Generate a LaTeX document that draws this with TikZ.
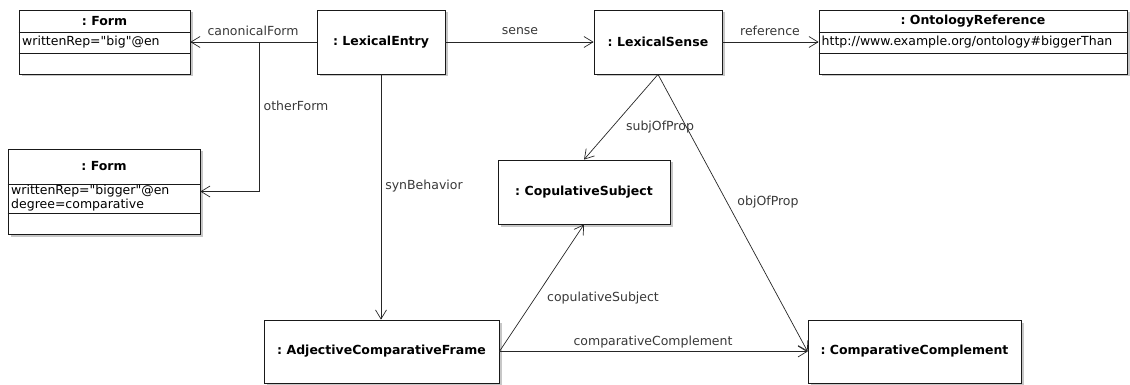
\documentclass[tikz,border=0pt]{standalone}
\usepackage{fontspec}
\setmainfont{DejaVu Sans}[Ligatures=TeXOff]
\usetikzlibrary{arrows.meta,shadows}
\frenchspacing

\begin{document}
\begin{tikzpicture}[x=1pt,y=-1pt,
  txt/.style={font=\fontsize{12.5}{15}\selectfont, inner sep=0pt},
  objbox/.style={draw=black!90, line width=0.8pt, fill=white, inner sep=0pt,
    drop shadow={shadow xshift=2.5pt, shadow yshift=-2.5pt, fill=black!22, opacity=1}},
  title/.style={txt, font=\fontsize{12.5}{15}\selectfont\bfseries},
  attr/.style={txt, anchor=west, align=left},
  lbl/.style={txt, text=black!78},
  sep/.style={draw=black!90, line width=0.8pt},
  assoc/.style={draw=black!85, line width=0.7pt,
    -{Straight Barb[length=9pt,width=11pt,line width=0.7pt]}},
]
\useasboundingbox (0,0) rectangle (1130,385);

% ---- objects of the top row ----
\node[objbox, minimum width=171pt, minimum height=64pt] (f1) at (104.5,42) {};
\node[title] (f1t) at (104.5,21) {: Form};
\draw[sep] (f1.west |- 0,32) -- (f1.east |- 0,32);
\draw[sep] (f1.west |- 0,53) -- (f1.east |- 0,53);
\node[attr] (f1a) at (22,42.5) {writtenRep="big"@en};

\node[objbox, title, minimum width=128pt, minimum height=64pt] (le) at (381,42) {: LexicalEntry};

\node[objbox, title, minimum width=128pt, minimum height=64pt] (ls) at (658,42) {: LexicalSense};

\node[objbox, minimum width=308pt, minimum height=64pt] (onto) at (973,42) {};
\node[title] (ontot) at (973,21) {: OntologyReference};
\draw[sep] (onto.west |- 0,32) -- (onto.east |- 0,32);
\draw[sep] (onto.west |- 0,53) -- (onto.east |- 0,53);
\node[attr] (ontoa) at (821.5,42.5) {http://www.example.org/ontology\#biggerThan};

% ---- second form ----
\node[objbox, minimum width=192pt, minimum height=85pt] (f2) at (104,191.5) {};
\node[title] (f2t) at (104,166.5) {: Form};
\draw[sep] (f2.west |- 0,184) -- (f2.east |- 0,184);
\draw[sep] (f2.west |- 0,213) -- (f2.east |- 0,213);
\node[attr, font=\fontsize{12.5}{14.5}\selectfont] (f2a) at (11,198) {writtenRep="bigger"@en\\degree=comparative};

% ---- frame and its arguments ----
\node[objbox, title, minimum width=172pt, minimum height=64pt] (cs) at (584,192) {: CopulativeSubject};
\node[objbox, title, minimum width=235pt, minimum height=63pt] (acf) at (381.5,351.5) {: AdjectiveComparativeFrame};
\node[objbox, title, minimum width=213pt, minimum height=63pt] (cc) at (914.5,351.5) {: ComparativeComplement};

% ---- connectors ----
\coordinate (ofb) at (259,42);
\draw[assoc] (le.west) -- (f1.east);
\draw[assoc] (ofb) |- (f2.east);
\draw[assoc] (le.east) -- (ls.west);
\draw[assoc] (ls.east) -- (onto.west);
\draw[assoc] (le.south) -- (le.south |- acf.north);
\draw[assoc] (ls.south) -- (cs.north);
\draw[assoc] (ls.south) -- (cc.west);
\draw[assoc] (acf.east) -- (cs.south);
\draw[assoc] (acf.east) -- (cc.west);

% ---- role labels ----
\node[lbl] (lcf) at (253,31) {canonicalForm};
\node[lbl] (lof) at (296,106) {otherForm};
\node[lbl] (lse) at (520,31) {sense};
\node[lbl] (lre) at (770,31) {reference};
\node[lbl] (lsb) at (424,186) {synBehavior};
\node[lbl] (lsp) at (660,127) {subjOfProp};
\node[lbl] (lop) at (768,202) {objOfProp};
\node[lbl] (lcs) at (603,298) {copulativeSubject};
\node[lbl] (lcc) at (653,342) {comparativeComplement};
\end{tikzpicture}
\end{document}
